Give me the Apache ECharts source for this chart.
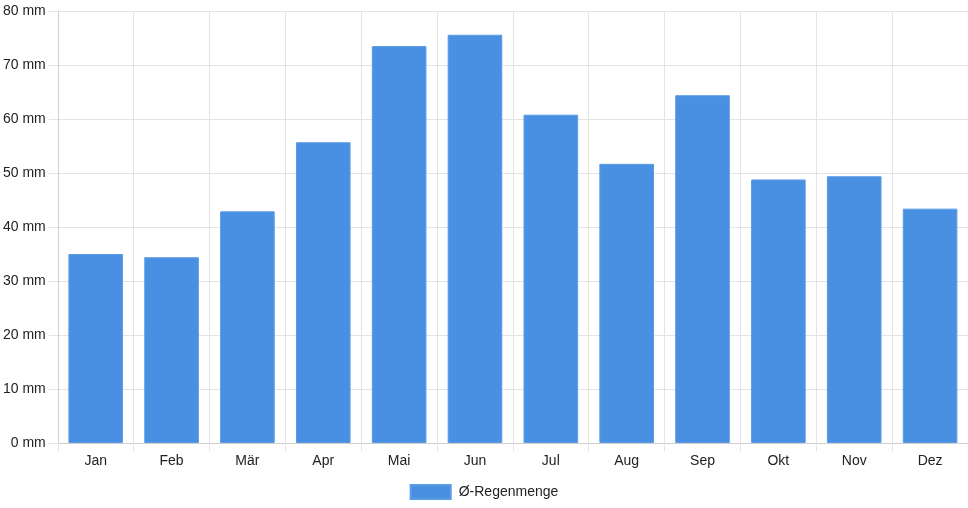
<!DOCTYPE html>
<html>
<head>
<meta charset="utf-8">
<title>Regenmenge</title>
<script src="https://cdn.jsdelivr.net/npm/echarts@6/dist/echarts.min.js"></script>
<style>
    html, body { margin: 0; padding: 0; background: #fff; }
    #chart { width: 968px; height: 508px; }
</style>
</head>
<body>
<div id="chart"></div>
<script>
const months = ["Jan", "Feb", "Mär", "Apr", "Mai", "Jun", "Jul", "Aug", "Sep", "Okt", "Nov", "Dez"];
const rain = [35.0, 34.4, 42.9, 55.7, 73.5, 75.6, 60.8, 51.7, 64.4, 48.8, 49.4, 43.4];
const seriesName = "Ø-Regenmenge";

const gridColor = "#e4e4e4";
const textColor = "#222";
const font = "'Liberation Sans', Arial, sans-serif";

let myChart = echarts.init(document.getElementById("chart"));

let option = {
    animation: false,
    textStyle: { fontFamily: font },
    legend: {
        left: "center",
        top: 479,
        itemWidth: 40,
        itemHeight: 14,
        itemGap: 10,
        icon: "rect",
        data: [seriesName],
        textStyle: { color: textColor, fontSize: 14, fontFamily: font, padding: [0, 0, 0, 3] }
    },
    grid: {
        left: 57,
        right: 0,
        top: 11,
        bottom: 65,
        containLabel: false
    },
    xAxis: {
        type: "category",
        data: months,
        boundaryGap: true,
        axisLine: { show: true, lineStyle: { color: "#cfcfcf" } },
        axisTick: { show: true, length: 8, lineStyle: { color: gridColor } },
        splitLine: { show: true, lineStyle: { color: gridColor } },
        axisLabel: { color: textColor, fontSize: 14, margin: 11, fontFamily: font }
    },
    yAxis: {
        type: "value",
        min: 0,
        max: 80,
        interval: 10,
        axisLine: { show: true, lineStyle: { color: "#cfcfcf" } },
        axisTick: { show: true, length: 9, lineStyle: { color: gridColor } },
        splitLine: { show: true, lineStyle: { color: gridColor } },
        axisLabel: {
            color: textColor,
            fontSize: 14,
            margin: 12,
            fontFamily: font,
            formatter: (v) => v + " mm"
        }
    },
    series: [
        {
            name: seriesName,
            type: "bar",
            data: rain,
            barCategoryGap: "28%",
            itemStyle: {
                color: "#4a90e2",
                borderColor: "#5a9be6",
                borderWidth: 1
            }
        }
    ]
};

myChart.setOption(option, true);
</script>
</body>
</html>
